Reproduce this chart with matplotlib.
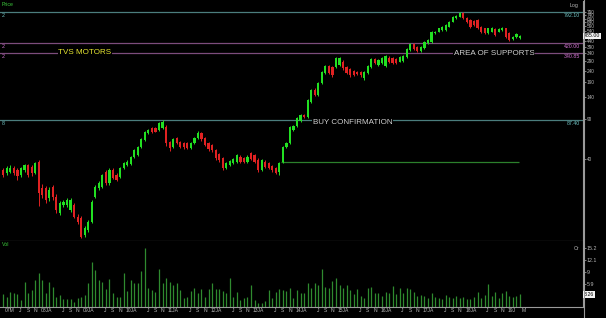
import numpy as np
import matplotlib
matplotlib.use("Agg")
import matplotlib.pyplot as plt
from matplotlib.lines import Line2D
from matplotlib.ticker import FixedLocator, NullLocator

plt.rcParams['font.family'] = ['Liberation Sans', 'DejaVu Sans']

# monthly candles, Mar 2007 .. May 2019 (TVS Motors, log price)
opens = [32.0, 30.0, 31.0, 33.1, 32.0, 28.9, 32.0, 35.4, 34.3, 30.0,
         37.9, 22.1, 22.1, 18.0, 22.6, 18.6, 13.3, 15.7, 15.7, 14.2,
         15.7, 12.4, 12.0, 8.6, 9.5, 11.2, 18.6, 22.1, 22.8, 31.0,
         24.4, 32.0, 28.9, 27.9, 33.1, 35.4, 36.2, 41.9, 43.4, 51.3,
         58.8, 67.3, 74.5, 74.5, 72.0, 74.5, 77.0, 56.9, 51.3, 60.8,
         56.9, 55.7, 55.0, 49.6, 55.0, 60.8, 68.2, 60.8, 55.0, 53.2,
         48.0, 44.2, 40.6, 33.1, 35.4, 36.7, 37.9, 41.9, 40.6, 37.9,
         44.9, 43.4, 39.2, 32.0, 37.9, 36.7, 34.5, 33.1, 31.0, 37.9,
         51.3, 55.0, 72.0, 78.0, 85.8, 97.6, 94.3, 127.6, 162.0, 146.0,
         185.5, 230.0, 263.0, 260.0, 260.0, 269.0, 288.0, 260.0, 246.0, 239.0,
         235.0, 235.0, 205.0, 227.0, 260.0, 302.0, 269.0, 278.0, 263.0, 313.0,
         308.0, 302.0, 288.0, 290.0, 318.0, 364.0, 409.0, 385.0, 358.0, 380.0,
         420.0, 425.0, 511.0, 528.0, 547.0, 547.0, 585.0, 647.0, 692.0, 716.0,
         766.0, 692.0, 669.0, 660.0, 669.0, 585.0, 565.0, 511.0, 528.0, 557.0,
         528.0, 547.0, 565.0, 511.0, 453.0, 471.0, 462.0]
closes = [28.9, 33.1, 33.6, 30.4, 28.3, 33.1, 35.4, 28.9, 30.0, 36.7,
          19.9, 19.3, 17.4, 21.3, 18.6, 14.2, 16.3, 16.8, 17.4, 17.4,
          12.4, 11.2, 8.3, 9.8, 11.2, 16.8, 22.8, 24.4, 28.9, 24.4,
          32.0, 27.0, 26.1, 33.1, 37.2, 37.9, 41.3, 48.0, 51.3, 59.5,
          69.6, 72.0, 69.6, 69.6, 82.5, 84.0, 55.0, 49.6, 59.5, 55.0,
          51.3, 50.6, 49.6, 55.0, 60.8, 68.2, 59.5, 53.2, 48.6, 48.0,
          40.6, 39.2, 33.1, 36.7, 38.4, 39.7, 43.4, 37.9, 37.9, 41.9,
          39.9, 37.9, 32.0, 39.2, 34.3, 33.1, 32.0, 30.4, 36.7, 51.3,
          55.0, 77.0, 77.5, 91.0, 97.6, 93.3, 132.0, 162.0, 146.0, 185.5,
          235.0, 263.0, 227.0, 219.5, 308.0, 308.0, 251.0, 227.0, 219.5, 219.5,
          224.0, 219.5, 235.0, 263.0, 302.0, 278.0, 298.0, 308.0, 323.0, 288.0,
          278.0, 278.0, 318.0, 323.0, 370.0, 414.0, 372.0, 358.0, 390.0, 431.0,
          446.0, 528.0, 528.0, 565.0, 585.0, 605.0, 647.0, 716.0, 726.0, 766.0,
          692.0, 647.0, 585.0, 605.0, 565.0, 528.0, 511.0, 565.0, 565.0, 494.0,
          554.0, 565.0, 478.0, 446.0, 478.0, 501.0, 485.0]
highs = [33.5, 34.5, 35.5, 34.5, 33.0, 34.0, 36.5, 36.5, 35.5, 38.0,
         39.5, 24.0, 23.0, 22.5, 23.5, 19.5, 17.0, 17.5, 18.2, 18.0,
         16.3, 13.0, 12.5, 10.2, 11.6, 17.3, 23.5, 25.5, 29.5, 32.0,
         33.0, 33.0, 30.0, 34.0, 38.0, 39.0, 42.5, 49.0, 52.5, 61.0,
         71.0, 74.0, 76.0, 76.0, 85.0, 87.4, 79.0, 58.0, 61.0, 62.0,
         58.0, 57.0, 56.0, 56.5, 62.0, 70.0, 69.5, 62.0, 56.0, 54.5,
         49.0, 45.5, 41.5, 37.5, 39.5, 41.0, 44.5, 43.0, 41.5, 43.0,
         46.5, 44.5, 40.5, 40.0, 39.0, 37.5, 35.5, 34.0, 37.5, 52.5,
         57.0, 78.5, 80.0, 93.0, 100.0, 100.0, 135.0, 166.0, 168.0, 190.0,
         240.0, 270.0, 268.0, 265.0, 315.0, 318.0, 295.0, 266.0, 252.0, 245.0,
         240.0, 240.0, 240.0, 268.0, 308.0, 310.0, 304.0, 314.0, 330.0, 320.0,
         315.0, 308.0, 325.0, 330.0, 378.0, 422.0, 418.0, 392.0, 398.0, 440.0,
         455.0, 538.0, 540.0, 575.0, 595.0, 615.0, 660.0, 730.0, 745.0, 792.1,
         785.0, 705.0, 680.0, 672.0, 680.0, 595.0, 575.0, 575.0, 580.0, 565.0,
         565.0, 580.0, 575.0, 520.0, 488.0, 510.0, 492.0]
lows = [27.5, 29.0, 30.0, 29.0, 26.0, 28.0, 31.0, 28.0, 28.5, 29.5,
        15.5, 18.0, 16.5, 17.0, 17.5, 13.5, 12.8, 15.0, 15.0, 13.8,
        12.0, 10.8, 8.0, 8.3, 9.2, 11.0, 18.0, 21.5, 22.0, 23.5,
        23.8, 26.5, 25.5, 27.0, 32.5, 34.5, 35.5, 41.0, 42.5, 50.0,
        57.5, 66.0, 68.0, 68.5, 71.0, 73.0, 52.0, 47.5, 50.0, 54.0,
        50.0, 49.0, 48.5, 48.5, 54.0, 59.5, 58.0, 52.0, 47.0, 46.5,
        39.5, 38.0, 32.0, 32.5, 34.5, 36.0, 37.0, 37.0, 37.0, 37.0,
        39.0, 37.0, 31.0, 31.5, 33.5, 32.5, 31.0, 29.5, 29.0, 37.0,
        50.0, 54.0, 70.0, 77.0, 84.0, 91.0, 92.0, 125.0, 143.0, 143.0,
        182.0, 226.0, 222.0, 212.0, 255.0, 265.0, 245.0, 222.0, 212.0, 214.0,
        218.0, 212.0, 200.0, 222.0, 255.0, 272.0, 264.0, 273.0, 258.0, 282.0,
        272.0, 272.0, 283.0, 285.0, 312.0, 358.0, 365.0, 350.0, 352.0, 375.0,
        412.0, 420.0, 500.0, 520.0, 540.0, 540.0, 578.0, 640.0, 680.0, 705.0,
        680.0, 635.0, 575.0, 595.0, 555.0, 515.0, 500.0, 505.0, 520.0, 485.0,
        520.0, 540.0, 468.0, 438.0, 445.0, 462.0, 455.0]
# monthly volume, crore shares
volume = [3.35, 2.66, 3.78, 3.52, 3.35, 1.80, 6.53, 3.52, 4.38, 6.95,
          8.67, 6.95, 3.52, 6.53, 5.24, 2.66, 3.09, 1.97, 1.97, 1.97,
          1.37, 2.23, 2.49, 3.09, 6.27, 11.50, 9.53, 6.95, 6.53, 4.55,
          7.13, 3.52, 2.66, 2.66, 8.67, 4.12, 6.95, 6.10, 6.10, 9.36,
          15.10, 4.81, 4.38, 3.95, 9.70, 6.10, 7.40, 6.53, 5.67, 6.27,
          4.38, 2.40, 2.66, 4.12, 4.81, 3.52, 4.55, 2.66, 4.55, 6.27,
          4.55, 4.55, 4.12, 3.52, 7.40, 2.66, 3.95, 1.80, 2.23, 2.66,
          5.67, 1.80, 0.94, 0.94, 1.63, 4.38, 2.23, 3.95, 4.55, 4.38,
          4.12, 4.81, 2.23, 4.38, 3.52, 3.52, 6.27, 4.81, 6.27, 5.67,
          9.70, 5.07, 4.81, 6.78, 7.40, 5.67, 4.81, 5.67, 4.38, 3.35,
          4.55, 2.83, 2.23, 4.81, 5.24, 3.52, 3.52, 2.83, 3.95, 3.69,
          5.41, 3.35, 4.81, 3.52, 4.81, 4.55, 3.95, 2.83, 3.09, 2.83,
          2.40, 3.52, 2.66, 2.23, 2.15, 3.09, 2.66, 2.23, 2.83, 2.23,
          2.66, 2.15, 1.97, 2.66, 3.95, 2.23, 3.09, 5.93, 2.83, 3.95,
          2.23, 3.69, 4.12, 2.83, 2.66, 2.83, 3.26]

levels = [792.10, 420.00, 340.85, 87.40]
level_colors = ['#4b7d7d', '#7c4c7c', '#7c4c7c', '#4b7d7d']
label_colors = ['#70c4c4', '#d474d4', '#d474d4', '#70c4c4']
left_tags = ['2', '2', '2', '8']
base_level = 37.3          # green line under the breakout
price_ticks = list(range(40, 791, 50))
vol_ticks = [5.9, 9, 12.1, 15.2]

n = len(opens)
months = np.arange(n)

# x labels: Jan as "YYJA", then J / S / N, first and last month short
tick_months, tick_labels = [], []
for i in months:
    m = (2 + i) % 12
    yy = (2007 + (2 + i) // 12) % 100
    if i == 0:
        lab = '07M'
    elif i == n - 1:
        lab = 'M'
    elif m == 0:
        lab = f'{yy:02d}JA' if i < n - 6 else f'{yy:02d}J'
    elif m in (6, 8, 10):
        lab = {6: 'J', 8: 'S', 10: 'N'}[m]
    else:
        continue
    tick_months.append(i)
    tick_labels.append(lab)

W, H = 606, 318
def box(x0, y0, x1, y1):
    return [x0 / W, 1 - y1 / H, (x1 - x0) / W, (y1 - y0) / H]

fig = plt.figure(figsize=(W / 100, H / 100), dpi=100, facecolor='black')
ax = fig.add_axes(box(0, 1, 583, 241), facecolor='black')
axv = fig.add_axes(box(0, 241, 583, 307), facecolor='black', sharex=ax)

grey = '#9a9a9a'
txt = '#b8b8b8'

# candles
up = np.array(closes) >= np.array(opens)
cols = np.where(up, '#22e022', '#e02222')
ax.vlines(months, lows, highs, colors=cols, lw=0.7, zorder=3)
ax.bar(months, np.abs(np.array(closes) - np.array(opens)),
       bottom=np.minimum(opens, closes), width=0.62, color=cols, zorder=3)

ax.set_yscale('log')
ax.set_ylim(7.59, 984)
ax.set_xlim(-0.93, 163.8)

for lv, lc, tc, tag in zip(levels, level_colors, label_colors, left_tags):
    ax.axhline(lv, color=lc, lw=0.9, zorder=2)
    ax.annotate(f'{lv:.2f}', (0.995, lv), xycoords=ax.get_yaxis_transform(),
                xytext=(0, -0.6), textcoords='offset points',
                ha='right', va='top', fontsize=3.8, color=tc)
    ax.annotate(tag, (0.003, lv), xycoords=ax.get_yaxis_transform(),
                xytext=(0, -0.6), textcoords='offset points',
                ha='left', va='top', fontsize=3.8, color=tc)
ax.hlines(base_level, 78.6, 145.7, color='#2c802c', lw=0.9, zorder=2)

def note(x, y, s, c, dy=0):
    ax.annotate(s, (x, y), xytext=(0, dy), textcoords='offset points',
                ha='left', va='center', fontsize=5.8, color=c, zorder=4,
                bbox=dict(facecolor='black', edgecolor='none', pad=0.4))

note(15.5, 340.85, 'TVS MOTORS', '#e8e832', 0.6)
note(127.3, 340.85, 'AREA OF SUPPORTS', '#cfcfcf')
note(87.5, 87.40, 'BUY CONFIRMATION', '#cfcfcf', -1.4)

# right price scale; the label under the last-price box is left out
last = closes[-1]
ax.yaxis.tick_right()
ax.yaxis.set_major_locator(FixedLocator(price_ticks))
ax.yaxis.set_minor_locator(NullLocator())
ax.set_yticklabels(['' if abs(t - last) < 12 else str(t) for t in price_ticks])
ax.tick_params(axis='y', colors=grey, labelcolor=txt, labelsize=3.4,
               length=2, width=0.6, pad=0.8)
ax.tick_params(axis='x', bottom=False, labelbottom=False)
ax.text(1.002, last, f'{last:.2f}', transform=ax.get_yaxis_transform(),
        ha='left', va='center', fontsize=3.8, color='black', clip_on=False,
        zorder=6, bbox=dict(facecolor='#f2f2f2', edgecolor='none', pad=0.5))

# volume
axv.vlines(months, 0, volume, colors='#2f8a2f', lw=0.9)
axv.set_ylim(0, 17)
axv.yaxis.tick_right()
axv.set_yticks(vol_ticks)
axv.set_yticklabels(['5.9', '9', '12.1', '15.2'])
axv.tick_params(axis='y', colors=grey, labelcolor=txt, labelsize=3.8,
                length=2, width=0.6, pad=0.8)
axv.tick_params(axis='x', bottom=False, labelbottom=False)
axv.text(1.002, volume[-1], f'{volume[-1]:.2f}', transform=axv.get_yaxis_transform(),
         ha='left', va='center', fontsize=3.8, color='black', clip_on=False,
         zorder=6, bbox=dict(facecolor='#f2f2f2', edgecolor='none', pad=0.5))
for i, lab in zip(tick_months, tick_labels):
    axv.text(i + 0.5, -0.02, lab, transform=axv.get_xaxis_transform(),
             ha='left', va='top', fontsize=3.6, color=txt, clip_on=False)

for a in (ax, axv):
    for s in ('top', 'left'):
        a.spines[s].set_visible(False)
    for s in ('right', 'bottom'):
        a.spines[s].set_color(grey)
        a.spines[s].set_linewidth(0.8)

fig.add_artist(Line2D([583.5 / W] * 2, [0, 1], transform=fig.transFigure,
                      color=grey, lw=0.8))

fig.text(2 / W, 1 - 5 / H, 'Price', color='#3ccc3c', fontsize=3.8, va='center')
fig.text(2 / W, 1 - 245 / H, 'Vol', color='#3ccc3c', fontsize=3.8, va='center')
fig.text(578 / W, 1 - 5 / H, 'Log', color=txt, fontsize=3.8, va='center', ha='right')
fig.text(579 / W, 1 - 249 / H, 'Cr', color=txt, fontsize=3.8, va='center', ha='right')

fig.savefig('out.png', dpi=100, facecolor='black')
